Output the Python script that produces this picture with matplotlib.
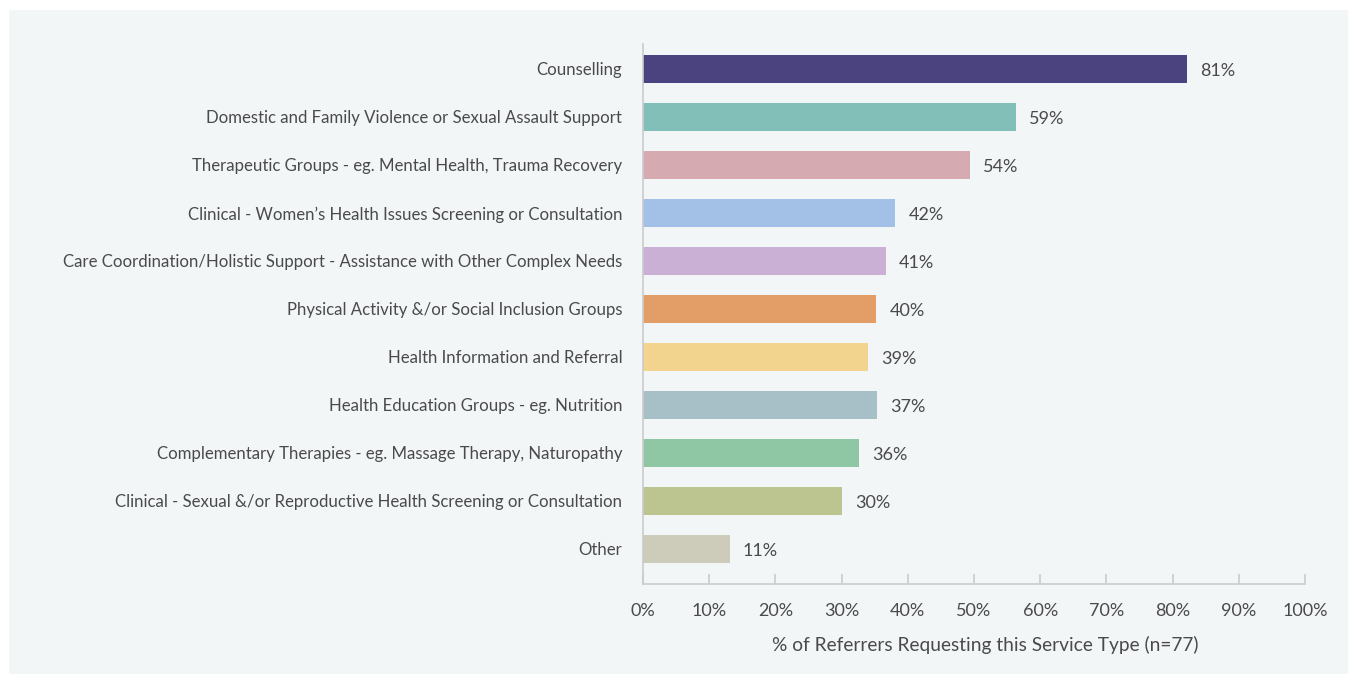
import matplotlib.pyplot as plt
from matplotlib.patches import Rectangle

plt.rcParams['font.family'] = ['Lato', 'DejaVu Sans']

# service types, top to bottom
services = [
    "Counselling",
    "Domestic and Family Violence or Sexual Assault Support",
    "Therapeutic Groups - eg. Mental Health, Trauma Recovery",
    "Clinical - Women\u2019s Health Issues Screening or Consultation",
    "Care Coordination/Holistic Support - Assistance with Other Complex Needs",
    "Physical Activity &/or Social Inclusion Groups",
    "Health Information and Referral",
    "Health Education Groups - eg. Nutrition",
    "Complementary Therapies - eg. Massage Therapy, Naturopathy",
    "Clinical - Sexual &/or Reproductive Health Screening or Consultation",
    "Other",
]
# bar lengths as drawn in the picture (%)
bar_len = [82.2, 56.3, 49.4, 38.1, 36.7, 35.2, 34.0, 35.3, 32.6, 30.0, 13.1]
# labels printed next to the bars
pct_labels = ["81%", "59%", "54%", "42%", "41%", "40%", "39%", "37%", "36%", "30%", "11%"]
colors = ["#4b4380", "#82bfb9", "#d6aab1", "#a3c1e6", "#cbb0d6", "#e39e68",
          "#f2d48f", "#a7bfc7", "#8fc6a3", "#bcc48f", "#cdccbb"]

txt = "#4a4a4a"
grey = "#c9cbcc"

fig = plt.figure(figsize=(13.58, 6.84), dpi=100, facecolor="white")
bg = Rectangle((9 / 1358, 10 / 684), 1339 / 1358, 664 / 684,
               transform=fig.transFigure, facecolor="#f3f6f7",
               edgecolor="none", zorder=-10)
fig.add_artist(bg)
ax = fig.add_axes([643 / 1358, 1 - 584 / 684, 662 / 1358, 540 / 684])
ax.set_facecolor("none")

y = list(range(len(services)))
ax.barh(y, bar_len, height=0.6, color=colors)
for yi, v, lab in zip(y, bar_len, pct_labels):
    ax.text(v + 2.0, yi + 0.05, lab, va="center", ha="left", fontsize=13, color=txt)

ax.set_ylim(10.73, -0.52)
ax.set_xlim(0, 100)
ax.set_yticks(y)
ax.set_yticklabels(services, fontsize=12.1, color=txt)
ax.set_xticks(range(0, 101, 10))
ax.set_xticklabels([f"{t}%" for t in range(0, 101, 10)], fontsize=13, color=txt)
ax.tick_params(axis="y", length=0, pad=15)
ax.tick_params(axis="x", direction="in", length=7, color=grey, width=1.2, pad=14)
for s in ["top", "right"]:
    ax.spines[s].set_visible(False)
ax.spines["left"].set_color(grey)
ax.spines["bottom"].set_color(grey)
ax.spines["left"].set_linewidth(1.2)
ax.spines["bottom"].set_linewidth(1.2)
ax.set_xlabel("% of Referrers Requesting this Service Type (n=77)", fontsize=13.8,
              color=txt, labelpad=12)
ax.xaxis.label.set_x(0.517)

fig.savefig("out.png", dpi=100, facecolor="white")
